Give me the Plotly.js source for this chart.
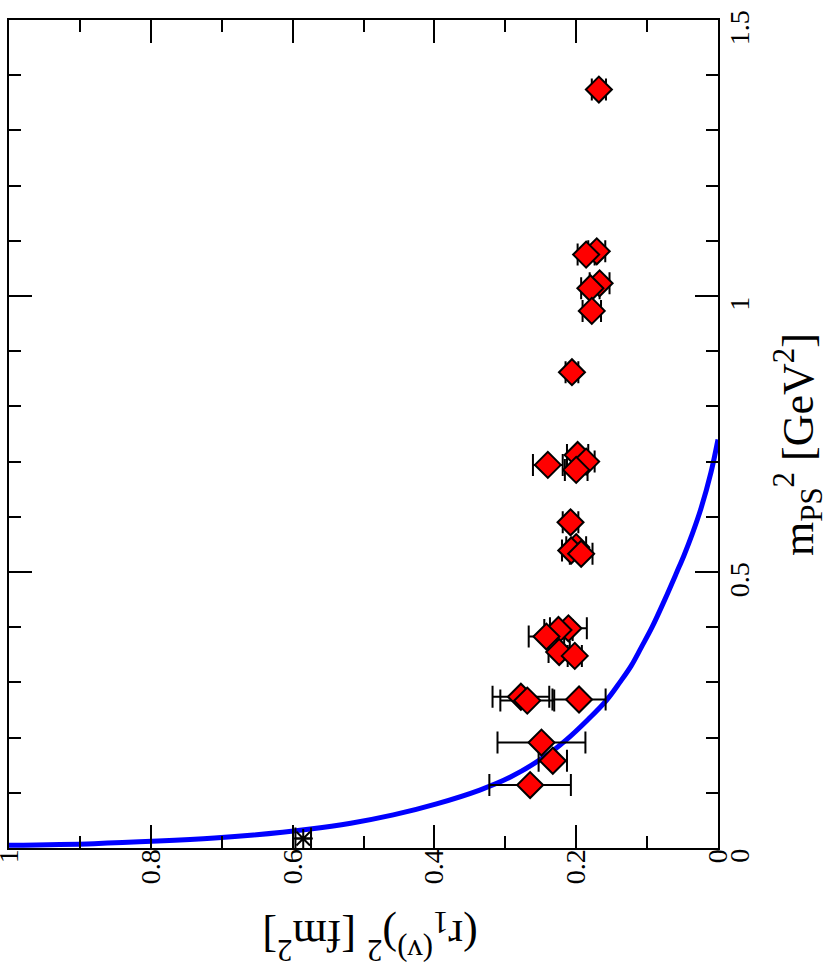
<!DOCTYPE html>
<html>
<head>
<meta charset="utf-8">
<script src="https://cdn.plot.ly/plotly-3.0.1.min.js"></script>
<style>
  body { margin: 0; background: #fff; }
  #grafico { width: 829px; height: 976px; }
</style>
</head>
<body>
<div id="grafico"></div>
<script>
// Pontos da simulação: m_PS^2 [GeV^2], (r1^(v))^2 [fm^2] e erro em r
const mPS2 = [1.374, 1.081, 1.075, 1.023, 1.014, 0.973, 0.862, 0.712, 0.700, 0.694, 0.685,
              0.590, 0.545, 0.539, 0.533, 0.398, 0.395, 0.383, 0.355, 0.348,
              0.274, 0.267, 0.269, 0.191, 0.158, 0.114];
const r1sq = [0.168, 0.171, 0.186, 0.167, 0.180, 0.178, 0.206, 0.198, 0.186, 0.240, 0.200,
              0.208, 0.200, 0.207, 0.193, 0.211, 0.225, 0.242, 0.224, 0.202,
              0.278, 0.269, 0.196, 0.249, 0.233, 0.265];
const r1err = [0.010, 0.012, 0.012, 0.014, 0.013, 0.013, 0.009, 0.015, 0.012, 0.021, 0.016,
               0.011, 0.014, 0.013, 0.016, 0.026, 0.020, 0.025, 0.015, 0.010,
               0.040, 0.038, 0.0375, 0.062, 0.020, 0.0575];

// Ponto experimental (estrela)
const mPhys = [0.017];
const rPhys = [0.585];
const rPhysErr = [0.011];

// Curva azul
const curveM = [0.0050, 0.0079, 0.0125, 0.018, 0.0235, 0.034, 0.045, 0.06, 0.08, 0.105, 0.129,
                0.165, 0.196, 0.232, 0.268, 0.30, 0.33, 0.364, 0.40, 0.45, 0.50, 0.53,
                0.57, 0.615, 0.68, 0.74];
const curveR = [1.0, 0.88, 0.79, 0.71, 0.655, 0.578, 0.518, 0.458, 0.397, 0.336, 0.292,
                0.245, 0.214, 0.184, 0.157, 0.1385, 0.1225, 0.108, 0.093, 0.075, 0.058, 0.048,
                0.036, 0.024, 0.010, 0.0];

const serif = 'Liberation Serif';

const data = [
    {
        x: curveR, y: curveM,
        type: 'scatter', mode: 'lines',
        line: { color: '#0000ff', width: 5, shape: 'spline', smoothing: 1 },
        hoverinfo: 'skip'
    },
    {
        x: rPhys, y: mPhys,
        type: 'scatter', mode: 'markers',
        marker: { symbol: 'asterisk-open', size: 16, color: '#000', line: { color: '#000', width: 2 } },
        error_x: { type: 'data', array: rPhysErr, color: '#000', thickness: 2, width: 11 }
    },
    {
        x: r1sq, y: mPS2,
        type: 'scatter', mode: 'markers',
        marker: { symbol: 'diamond', size: 20, color: '#ff0000', line: { color: '#000', width: 2 } },
        error_x: { type: 'data', array: r1err, color: '#000', thickness: 2, width: 11 }
    }
];

function eixo(extra) {
    return Object.assign({
        ticks: 'inside', ticklen: 23, tickwidth: 2, tickcolor: '#000',
        showline: true, linewidth: 2, linecolor: '#000', mirror: 'allticks',
        showgrid: false, zeroline: false, tickangle: -90,
        ticklabeloverflow: 'allow',
        tickfont: { family: serif, size: 28, color: '#000' },
        minor: { dtick: 0.1, ticks: 'inside', ticklen: 12, tickwidth: 2, tickcolor: '#000', showgrid: false }
    }, extra);
}

const layout = {
    width: 829, height: 976,
    margin: { l: 9, r: 111, t: 20, b: 128 },
    showlegend: false,
    paper_bgcolor: '#fff', plot_bgcolor: '#fff',
    xaxis: eixo({ range: [1, 0], tick0: 0, dtick: 0.2, ticklabelstandoff: -12 }),
    yaxis: eixo({ range: [0, 1.5], tick0: 0, dtick: 0.5, side: 'right',
                  ticklabelstandoff: -5, ticklabelshift: 12 }),
    annotations: [
        {
            text: '(r<sub>1</sub><sup>(v)</sup>)<sup>2</sup> [fm<sup>2</sup>]',
            xref: 'paper', yref: 'paper', x: 0.509, y: -0.106,
            xanchor: 'center', yanchor: 'middle',
            showarrow: false, textangle: 180,
            font: { family: serif, size: 44, color: '#000' }
        },
        {
            text: 'm<sub>PS</sub><sup>2</sup> [GeV<sup>2</sup>]',
            xref: 'paper', yref: 'paper', x: 1.113, y: 0.487,
            xanchor: 'center', yanchor: 'middle',
            showarrow: false, textangle: -90,
            font: { family: serif, size: 44, color: '#000' }
        }
    ]
};

Plotly.newPlot('grafico', data, layout, { displayModeBar: false });
</script>
</body>
</html>
